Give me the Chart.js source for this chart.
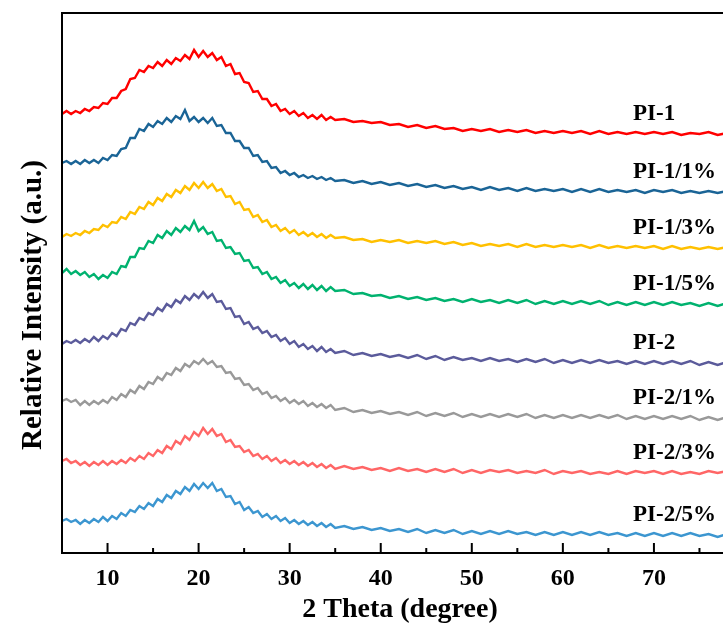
<!DOCTYPE html>
<html>
<head>
<meta charset="utf-8">
<title>XRD patterns</title>
<script src="https://cdn.jsdelivr.net/npm/chart.js@4.4.1/dist/chart.umd.min.js"></script>
<style>
  html, body { margin: 0; padding: 0; background: #fff; overflow: hidden; }
  #wrap { width: 760px; height: 623px; }
</style>
</head>
<body>
<div id="wrap"><canvas id="xrd" width="760" height="623"></canvas></div>
<script>
// --- Data (2 theta in degrees, intensity in stacked arbitrary units) ---
const twoTheta = [
  5, 5.5, 6, 6.5, 7, 7.5, 8, 8.5, 9, 9.5, 10, 10.5, 11, 11.5, 12, 12.5, 13, 13.5, 14, 14.5,
  15, 15.5, 16, 16.5, 17, 17.5, 18, 18.5, 19, 19.5, 20, 20.5, 21, 21.5, 22, 22.5, 23, 23.5, 24, 24.5,
  25, 25.5, 26, 26.5, 27, 27.5, 28, 28.5, 29, 29.5, 30, 30.5, 31, 31.5, 32, 32.5, 33, 33.5, 34, 34.5,
  35, 36, 37, 38, 39, 40, 41, 42, 43, 44, 45, 46, 47, 48, 49, 50, 51, 52, 53, 54, 55,
  56, 57, 58, 59, 60, 61, 62, 63, 64, 65, 66, 67, 68, 69, 70, 71, 72, 73, 74, 75, 76, 77, 78, 79, 80
];

const pi1 = [
  439, 442, 439, 442, 440, 444, 442, 446, 445, 450, 449, 455, 455, 462, 464, 474, 475, 483, 481, 487,
  485, 491, 487, 493, 489, 495, 492, 498, 494, 503, 496, 502, 496, 500, 493, 496, 487, 489, 479, 480,
  471, 470, 461, 462, 454, 454, 447, 449, 442, 444, 439, 442, 437, 440, 435, 438, 434, 438, 433, 436,
  433, 434, 431, 432, 430, 431, 428, 429, 426, 428, 425, 427, 424, 425, 422, 424, 422, 424, 421, 423, 421,
  423, 420, 422, 420, 422, 420, 422, 419, 422, 419, 421, 419, 421, 419, 421, 419, 421, 418, 420, 419, 421, 418, 420, 419, 420
];
const pi1_1 = [
  390, 392, 389, 392, 389, 393, 390, 393, 390, 395, 393, 398, 397, 404, 405, 415, 415, 424, 422, 429,
  426, 432, 429, 435, 431, 437, 434, 443, 432, 436, 431, 435, 430, 435, 427, 428, 420, 420, 412, 412,
  405, 405, 397, 398, 391, 392, 385, 386, 380, 382, 378, 380, 376, 378, 375, 377, 374, 376, 373, 375,
  372, 373, 370, 372, 369, 371, 368, 370, 367, 369, 366, 368, 365, 367, 364, 366, 363, 366, 363, 365, 362,
  365, 362, 364, 362, 364, 361, 364, 361, 364, 361, 363, 361, 363, 360, 363, 361, 363, 360, 362, 360, 362, 360, 362, 360, 362
];
const pi1_3 = [
  316, 319, 317, 320, 318, 322, 320, 324, 323, 328, 326, 331, 330, 336, 334, 341, 339, 346, 344, 351,
  348, 355, 352, 359, 356, 363, 360, 367, 363, 370, 365, 371, 365, 369, 362, 364, 356, 357, 349, 351,
  343, 344, 336, 338, 331, 333, 326, 328, 322, 325, 320, 323, 318, 321, 317, 320, 316, 319, 315, 318,
  315, 316, 313, 314, 311, 313, 311, 313, 310, 312, 310, 312, 309, 311, 308, 310, 307, 309, 307, 309, 306,
  309, 306, 308, 306, 308, 306, 308, 305, 308, 305, 307, 305, 307, 305, 307, 304, 307, 304, 306, 304, 306, 304, 306, 304, 306
];
const pi1_5 = [
  280, 284, 279, 282, 278, 281, 276, 279, 274, 278, 275, 281, 279, 287, 286, 296, 296, 305, 304, 312,
  310, 318, 315, 322, 318, 325, 321, 327, 323, 332, 322, 326, 319, 321, 312, 313, 305, 306, 299, 300,
  292, 293, 285, 286, 279, 281, 274, 276, 270, 273, 267, 270, 265, 269, 264, 268, 263, 267, 262, 266,
  262, 263, 259, 260, 257, 258, 255, 257, 254, 256, 253, 255, 252, 254, 251, 254, 251, 253, 250, 253, 250,
  253, 249, 252, 249, 252, 249, 252, 249, 252, 248, 251, 248, 251, 248, 251, 248, 251, 248, 250, 247, 250, 247, 250, 247, 250
];
const pi2 = [
  209, 212, 210, 213, 210, 214, 211, 216, 212, 217, 214, 220, 217, 224, 222, 230, 228, 235, 233, 240,
  238, 245, 242, 249, 246, 253, 250, 257, 253, 259, 255, 261, 255, 259, 251, 252, 244, 245, 236, 237,
  229, 231, 224, 226, 220, 222, 216, 218, 212, 215, 209, 212, 206, 209, 204, 207, 202, 206, 201, 204,
  200, 202, 198, 200, 197, 199, 196, 198, 195, 198, 194, 197, 193, 196, 193, 195, 192, 195, 192, 194, 191,
  194, 191, 194, 190, 193, 190, 193, 190, 193, 190, 192, 189, 192, 189, 192, 189, 192, 189, 192, 188, 191, 188, 191, 188, 191
];
const pi2_1 = [
  152, 154, 151, 153, 148, 152, 148, 152, 149, 153, 150, 156, 153, 159, 156, 163, 160, 167, 164, 171,
  169, 176, 173, 180, 178, 185, 182, 189, 186, 192, 189, 194, 189, 192, 186, 187, 180, 181, 174, 175,
  168, 169, 163, 165, 159, 161, 155, 157, 152, 155, 150, 153, 149, 152, 147, 150, 146, 149, 145, 148,
  143, 145, 141, 143, 140, 142, 139, 141, 138, 141, 137, 140, 137, 140, 136, 139, 136, 139, 136, 139, 136,
  139, 135, 138, 135, 138, 135, 138, 135, 138, 135, 138, 134, 137, 134, 137, 134, 137, 134, 137, 133, 136, 133, 136, 133, 136
];
const pi2_3 = [
  92, 94, 90, 92, 88, 91, 87, 91, 88, 92, 88, 92, 89, 93, 90, 95, 92, 97, 94, 100,
  97, 103, 100, 107, 104, 112, 109, 117, 113, 121, 117, 125, 119, 124, 117, 119, 111, 113, 106, 107,
  101, 103, 97, 99, 94, 97, 92, 95, 90, 93, 89, 92, 88, 91, 87, 90, 86, 89, 85, 88,
  84, 87, 84, 86, 83, 85, 82, 85, 82, 84, 81, 84, 81, 84, 80, 83, 80, 83, 81, 83, 80,
  82, 80, 83, 79, 82, 80, 82, 79, 81, 79, 82, 79, 82, 80, 82, 79, 82, 79, 81, 79, 82, 80, 82, 79, 81
];
const pi2_5 = [
  32, 34, 31, 33, 29, 33, 30, 34, 31, 36, 32, 37, 34, 40, 37, 43, 41, 47, 44, 50,
  47, 54, 51, 58, 55, 62, 59, 66, 62, 69, 64, 70, 65, 70, 62, 64, 56, 57, 49, 51,
  43, 46, 40, 42, 36, 39, 34, 37, 32, 35, 30, 33, 29, 32, 28, 31, 27, 30, 26, 29,
  25, 27, 24, 26, 23, 25, 22, 24, 21, 24, 20, 23, 20, 23, 19, 22, 19, 22, 19, 22, 19,
  21, 18, 21, 18, 21, 18, 21, 18, 21, 18, 20, 17, 20, 17, 20, 17, 20, 17, 20, 17, 19, 16, 19, 16, 19
];

const sampleNames = ['PI-1', 'PI-1/1%', 'PI-1/3%', 'PI-1/5%', 'PI-2', 'PI-2/1%', 'PI-2/3%', 'PI-2/5%'];
const sampleData = [pi1, pi1_1, pi1_3, pi1_5, pi2, pi2_1, pi2_3, pi2_5];
const sampleColors = ['#ff0000', '#1a6496', '#ffc000', '#00b26f', '#5b5b9b', '#999999', '#ff6666', '#3c96d0'];
const xTickValues = [10, 20, 30, 40, 50, 60, 70];

const serif = '"Liberation Serif", "Times New Roman", serif';

// --- Frame, inward ticks, sample labels and axis titles ---
const framePlugin = {
	id: 'framePlugin',
	afterDatasetsDraw(chart) {
		const { ctx, chartArea: a, scales: { x } } = chart;
		ctx.save();
		ctx.strokeStyle = '#000';
		ctx.lineWidth = 2;
		ctx.strokeRect(a.left, a.top, a.right - a.left, a.bottom - a.top);
		for (let v = 10; v <= 80; v += 5) {
			const px = x.getPixelForValue(v);
			const len = v % 10 === 0 ? 10 : 5;
			ctx.beginPath();
			ctx.moveTo(px, a.bottom);
			ctx.lineTo(px, a.bottom - len);
			ctx.stroke();
		}
		ctx.fillStyle = '#000';
		ctx.font = 'bold 23px ' + serif;
		ctx.textAlign = 'left';
		ctx.textBaseline = 'middle';
		chart.data.datasets.forEach((ds, i) => {
			const pts = chart.getDatasetMeta(i).data;
			ctx.fillText(ds.label, x.getPixelForValue(67.7), pts[pts.length - 1].y - 19);
		});
		ctx.font = 'bold 28px ' + serif;
		ctx.textAlign = 'center';
		ctx.fillText('2 Theta (degree)', 400, 610);
		ctx.font = 'bold 29px ' + serif;
		ctx.translate(34, 305);
		ctx.rotate(-Math.PI / 2);
		ctx.fillText('Relative Intensity (a.u.)', 0, 0);
		ctx.restore();
	}
};

new Chart(document.getElementById('xrd').getContext('2d'), {
	type: 'line',
	data: {
		datasets: sampleData.map((vals, i) => ({
			label: sampleNames[i],
			data: twoTheta.map((t, k) => ({ x: t, y: vals[k] })),
			borderColor: sampleColors[i],
			borderWidth: 2.4,
			pointRadius: 0,
			tension: 0,
			fill: false
		}))
	},
	options: {
		responsive: false,
		animation: false,
		layout: { padding: { top: 13, right: 15, left: 0, bottom: 0 } },
		plugins: {
			legend: { display: false },
			tooltip: { enabled: false }
		},
		scales: {
			x: {
				type: 'linear',
				min: 5,
				max: 80,
				grid: { display: false, drawTicks: false },
				border: { display: false },
				afterBuildTicks: scale => { scale.ticks = xTickValues.map(v => ({ value: v })); },
				afterFit: scale => { scale.height = 70; },
				ticks: {
					color: '#000',
					padding: 11,
					maxRotation: 0,
					font: { family: serif, size: 24, weight: 'bold' }
				}
			},
			y: {
				min: 0,
				max: 540,
				grid: { display: false, drawTicks: false },
				border: { display: false },
				ticks: { display: false },
				afterFit: scale => { scale.width = 62; }
			}
		}
	},
	plugins: [framePlugin]
});
</script>
</body>
</html>
